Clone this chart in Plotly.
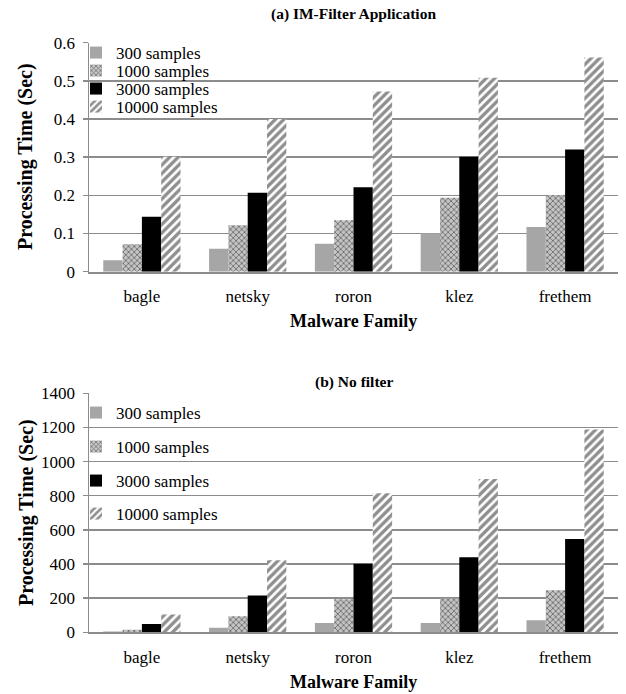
import plotly.graph_objects as go

families = ["bagle", "netsky", "roron", "klez", "frethem"]
series_names = ["300 samples", "1000 samples", "3000 samples", "10000 samples"]

filter_300 = [0.030, 0.060, 0.073, 0.101, 0.117]
filter_1000 = [0.072, 0.122, 0.135, 0.194, 0.200]
filter_3000 = [0.144, 0.207, 0.221, 0.301, 0.320]
filter_10000 = [0.301, 0.400, 0.472, 0.508, 0.561]

nofilter_300 = [4, 27, 55, 55, 71]
nofilter_1000 = [15, 94, 194, 198, 247]
nofilter_3000 = [49, 216, 402, 439, 547]
nofilter_10000 = [104, 422, 814, 898, 1188]

top_ticks = [0, 0.1, 0.2, 0.3, 0.4, 0.5, 0.6]
top_ticktext = ["0", "0.1", "0.2", "0.3", "0.4", "0.5", "0.6"]
bot_ticks = [0, 200, 400, 600, 800, 1000, 1200, 1400]

W, H = 626, 694
FONT = "Liberation Serif, Times New Roman, serif"
GRID = "#8c8c8c"

styles = [
    dict(color="#a6a6a6"),
    dict(color="#b0b0b0", pattern=dict(shape="x", fgcolor="#6e6e6e", bgcolor="#c4c4c4",
                                       size=4, solidity=0.4)),
    dict(color="#000000"),
    dict(color="#ffffff", pattern=dict(shape="/", fgcolor="#8e8e8e", bgcolor="#ffffff",
                                       size=6, solidity=0.55)),
]

def px_x(p):
    return p / W

def px_y(p):
    return 1 - p / H

fig = go.Figure()

top_data = [filter_300, filter_1000, filter_3000, filter_10000]
bot_data = [nofilter_300, nofilter_1000, nofilter_3000, nofilter_10000]

top_leg_y = [53, 71, 89, 107]
bot_leg_y = [413, 447, 481, 514]
LEG_X = 76

legend_font = dict(family=FONT, size=17, color="#000000")

layout_legends = {}
for i, (name, vals) in enumerate(zip(series_names, top_data)):
    lg = "legend" if i == 0 else f"legend{i + 1}"
    fig.add_trace(go.Bar(x=families, y=vals, name=name, marker=dict(line=dict(width=0), **styles[i]),
                         xaxis="x", yaxis="y", legend=lg))
    layout_legends[lg] = dict(x=px_x(LEG_X), y=px_y(top_leg_y[i]), xanchor="left", yanchor="middle",
                              bgcolor="rgba(0,0,0,0)", font=legend_font, borderwidth=0)
for i, (name, vals) in enumerate(zip(series_names, bot_data)):
    lg = f"legend{i + 5}"
    fig.add_trace(go.Bar(x=families, y=vals, name=name, marker=dict(line=dict(width=0), **styles[i]),
                         xaxis="x2", yaxis="y2", legend=lg))
    layout_legends[lg] = dict(x=px_x(LEG_X), y=px_y(bot_leg_y[i]), xanchor="left", yanchor="middle",
                              bgcolor="rgba(0,0,0,0)", font=legend_font, borderwidth=0)

xdom = [px_x(89), px_x(618)]
axis_common_x = dict(showgrid=False, showline=True, linecolor=GRID, linewidth=2,
                     ticks="", tickfont=dict(family=FONT, size=17, color="#000"),
                     ticklabelstandoff=8, fixedrange=True, automargin=False)
axis_common_y = dict(showgrid=True, gridcolor=GRID, gridwidth=1.5, showline=True, linecolor=GRID,
                     linewidth=1.5, ticks="outside", ticklen=5, tickcolor=GRID, tickwidth=1.5,
                     tickfont=dict(family=FONT, size=17, color="#000"), zeroline=False,
                     ticklabelstandoff=4, fixedrange=True, automargin=False)

fig.update_layout(
    template="none",
    width=W, height=H, autosize=False,
    margin=dict(l=0, r=0, t=0, b=0, pad=0, autoexpand=False),
    paper_bgcolor="white", plot_bgcolor="white",
    barmode="group", bargap=0.27, bargroupgap=0,
    showlegend=True,
    font=dict(family=FONT, color="#000"),
    xaxis=dict(domain=xdom, anchor="y", **axis_common_x),
    yaxis=dict(domain=[px_y(271.7), px_y(42.7)], anchor="x", range=[0, 0.6],
               tickvals=top_ticks, ticktext=top_ticktext, **axis_common_y),
    xaxis2=dict(domain=xdom, anchor="y2", **axis_common_x),
    yaxis2=dict(domain=[px_y(632.3), px_y(393.3)], anchor="x2", range=[0, 1400],
                tickvals=bot_ticks, **axis_common_y),
    **layout_legends,
)

cx = (89 + 618) / 2
ann = [
    dict(text="<b>(a) IM-Filter Application</b>", x=px_x(cx), y=px_y(14), size=15.5),
    dict(text="<b>(b) No filter</b>", x=px_x(cx), y=px_y(382), size=15.5),
    dict(text="<b>Malware Family</b>", x=px_x(cx), y=px_y(321), size=18),
    dict(text="<b>Malware Family</b>", x=px_x(cx), y=px_y(682), size=18),
]
for a in ann:
    fig.add_annotation(text=a["text"], x=a["x"], y=a["y"], xref="paper", yref="paper",
                       xanchor="center", yanchor="middle", showarrow=False,
                       font=dict(family=FONT, size=a["size"], color="#000"))
for yc in [157, 513]:
    fig.add_annotation(text="<b>Processing Time (Sec)</b>", x=px_x(26), y=px_y(yc),
                       xref="paper", yref="paper", xanchor="center", yanchor="middle",
                       showarrow=False, textangle=-90,
                       font=dict(family=FONT, size=20, color="#000"))

fig.write_html("out.html",
               config={"displayModeBar": False, "staticPlot": True},
               post_script="document.body.style.margin='0px';document.body.style.overflow='hidden';")
